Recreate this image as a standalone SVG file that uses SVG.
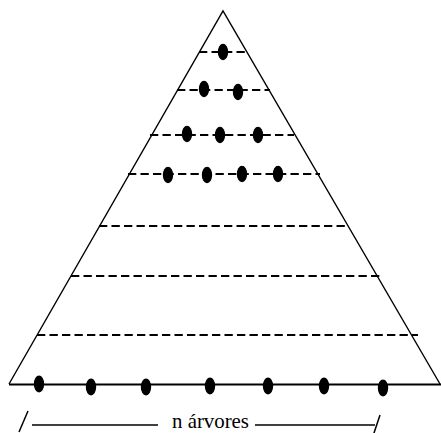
<svg xmlns="http://www.w3.org/2000/svg" width="441" height="433" viewBox="0 0 441 433">
<style>
.side{stroke:#000;stroke-width:1.4;fill:none}
.base{stroke:#000;stroke-width:2;fill:none}
.dash{stroke:#000;stroke-width:1.8;stroke-dasharray:8.3 4.2;fill:none}
.dot{fill:#000}
.lbl{font-family:"Liberation Serif","Times New Roman",serif;font-size:21px;fill:#000}
.rule{stroke:#000;stroke-width:1.5}
</style>
<rect width="441" height="433" fill="#fff"/>
<g id="triangle">
<path class="side" d="M9,384 L223,11 L440,384"/>
<line class="base" x1="9" y1="384.5" x2="441" y2="384.5"/>
</g>
<g id="levels">
<line class="dash" x1="199" y1="52" x2="248" y2="52"/>
<line class="dash" x1="177" y1="90" x2="270" y2="90"/>
<line class="dash" x1="150" y1="135" x2="294" y2="135"/>
<line class="dash" x1="128" y1="174" x2="320" y2="174"/>
<line class="dash" x1="99" y1="226" x2="348" y2="226"/>
<line class="dash" x1="71" y1="276" x2="380" y2="276"/>
<line class="dash" x1="37" y1="335" x2="418" y2="335"/>
</g>
<g id="nodes">
<ellipse class="dot" cx="223" cy="52" rx="5.2" ry="8.3"/>
<ellipse class="dot" cx="204" cy="89" rx="5.2" ry="8.3"/>
<ellipse class="dot" cx="238" cy="92" rx="5.2" ry="8.3"/>
<ellipse class="dot" cx="187" cy="134" rx="5.2" ry="8.3"/>
<ellipse class="dot" cx="220" cy="135" rx="5.2" ry="8.3"/>
<ellipse class="dot" cx="258" cy="135" rx="5.2" ry="8.3"/>
<ellipse class="dot" cx="168" cy="175" rx="5.2" ry="8.3"/>
<ellipse class="dot" cx="207" cy="175" rx="5.2" ry="8.3"/>
<ellipse class="dot" cx="242" cy="174" rx="5.2" ry="8.3"/>
<ellipse class="dot" cx="278" cy="174" rx="5.2" ry="8.3"/>
<ellipse class="dot" cx="39" cy="384" rx="5.2" ry="8.5"/>
<ellipse class="dot" cx="91" cy="387" rx="5.2" ry="8.5"/>
<ellipse class="dot" cx="146" cy="387" rx="5.2" ry="8.5"/>
<ellipse class="dot" cx="210" cy="386" rx="5.2" ry="8.5"/>
<ellipse class="dot" cx="268" cy="386" rx="5.2" ry="8.5"/>
<ellipse class="dot" cx="324" cy="386" rx="5.2" ry="8.5"/>
<ellipse class="dot" cx="383" cy="388" rx="5.2" ry="8.5"/>
</g>
<g id="label">
<line class="rule" x1="19" y1="432" x2="28" y2="411"/>
<line class="rule" x1="32" y1="425" x2="158" y2="425"/>
<text class="lbl" x="172" y="428" textLength="77" lengthAdjust="spacingAndGlyphs">n árvores</text>
<line class="rule" x1="255" y1="425" x2="375" y2="425"/>
<line class="rule" x1="373" y1="436" x2="380" y2="415"/>
</g>
</svg>
